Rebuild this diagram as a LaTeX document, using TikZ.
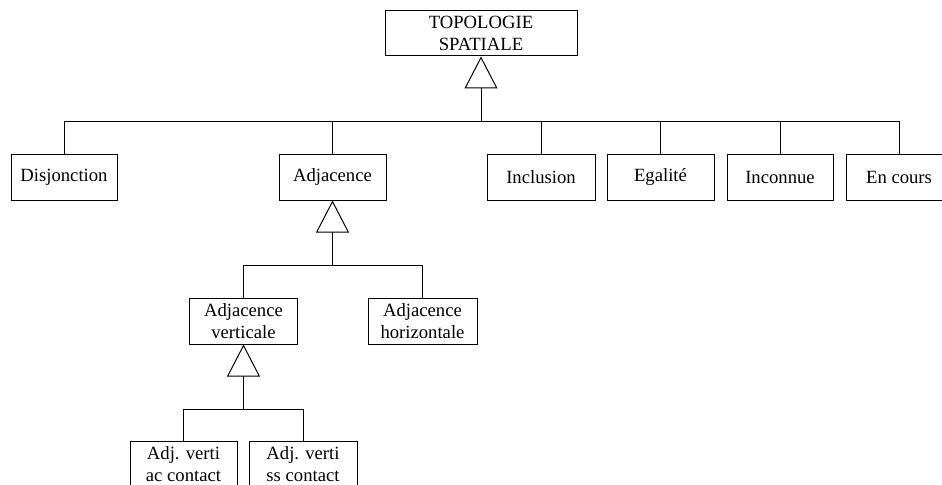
\documentclass[tikz,border=0pt]{standalone}
\usepackage{fontspec}
\setmainfont{Liberation Serif}
\usetikzlibrary{arrows.meta}

\begin{document}
\begin{tikzpicture}[x=0.75pt,y=-0.75pt,line width=0.75pt,
        class/.style={draw,align=center,minimum height=34.5pt,inner sep=2pt,font=\fontsize{14}{16}\selectfont},
        gen/.style={-{Triangle[open,length=24pt,width=24.75pt]}}]
        \useasboundingbox (0,0) rectangle (942,485);
        \clip (0,0) rectangle (942,485);
        % classes
        \node [class, minimum width=144pt, minimum height=33.75pt] (0) at (481,33.5) {TOPOLOGIE\\SPATIALE};
        \node [class, minimum width=79.5pt] (1) at (64,177) {Disjonction};
        \node [class, minimum width=80.25pt] (2) at (332.5,177) {Adjacence};
        \node [class, minimum width=81pt] (3) at (541,177) {Inclusion};
        \node [class, minimum width=80.25pt] (4) at (660.5,177) {Egalit\'e};
        \node [class, minimum width=79.5pt] (5) at (780,177) {Inconnue};
        \node [class, minimum width=79.5pt] (6) at (899,177) {En cours};
        \node [class, minimum width=81pt] (7) at (243.5,321) {Adjacence\\verticale};
        \node [class, minimum width=81.75pt] (8) at (422.5,321) {Adjacence\\horizontale};
        \node [class, minimum width=80.25pt] (9) at (183.5,464) {Adj. verti\\ac contact};
        \node [class, minimum width=81pt] (10) at (303,464) {Adj. verti\\ss contact};
        % junctions
        \coordinate (j0) at (481,121.5);
        \coordinate (j2) at (332.5,265.5);
        \coordinate (j7) at (243.5,409);
        % inheritance
        \path [draw, gen] (j0) -- (0);
        \path [draw, gen] (j2) -- (2);
        \path [draw, gen] (j7) -- (7);
        \foreach \c in {1,2,3,4,5,6}
            \path [draw] (\c.north) |- (j0);
        \foreach \c in {7,8}
            \path [draw] (\c.north) |- (j2);
        \foreach \c in {9,10}
            \path [draw] (\c.north) |- (j7);
    \end{tikzpicture}
\end{document}
